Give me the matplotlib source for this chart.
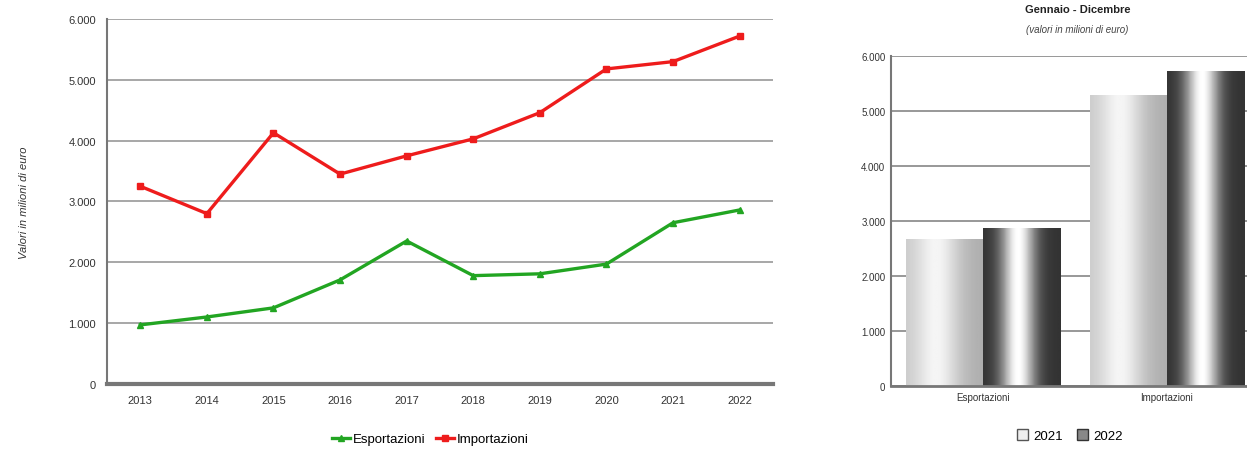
import matplotlib
matplotlib.use('Agg')
import matplotlib.pyplot as plt
import numpy as np
from matplotlib.ticker import FuncFormatter
from matplotlib.patches import Patch

plt.rcParams['font.family'] = ['Liberation Sans', 'DejaVu Sans']

# data (milioni di euro)
anni = ['2013', '2014', '2015', '2016', '2017', '2018', '2019', '2020', '2021', '2022']
esportazioni = [970, 1100, 1250, 1710, 2350, 1780, 1810, 1970, 2650, 2860]
importazioni = [3250, 2800, 4130, 3450, 3750, 4030, 4460, 5180, 5300, 5720]

voci = ['Esportazioni', 'Importazioni']
val_2021 = [2670, 5290]
val_2022 = [2870, 5730]

def fmt_it(v, pos):
    return '{:,.0f}'.format(v).replace(',', '.')

fig = plt.figure(figsize=(12.47, 4.56), dpi=100)

# ---- line chart
ax = fig.add_axes([0.0858, 0.156, 0.534, 0.80])
x = np.arange(len(anni))
l1, = ax.plot(x, esportazioni, color='#22a522', lw=2.4, marker='^', ms=5, label='Esportazioni')
l2, = ax.plot(x, importazioni, color='#ee1c1c', lw=2.4, marker='s', ms=5, label='Importazioni')
ax.set_xlim(-0.5, 9.5)
ax.set_ylim(0, 6000)
ax.set_yticks(range(0, 6001, 1000))
ax.yaxis.set_major_formatter(FuncFormatter(fmt_it))
ax.set_xticks(x)
ax.set_xticklabels(anni)
ax.grid(axis='y', color='#a0a0a0', lw=1.3)
ax.set_axisbelow(True)
for s in ['top', 'right']:
    ax.spines[s].set_visible(False)
ax.spines['left'].set_color('#777777')
ax.spines['left'].set_linewidth(1.5)
ax.spines['bottom'].set_color('#777777')
ax.spines['bottom'].set_linewidth(3)
ax.tick_params(length=0, labelsize=8, colors='#333333', pad=8)
ax.set_ylabel('Valori in milioni di euro', fontsize=8, style='italic', color='#333333', labelpad=28)
fig.legend(handles=[l1, l2], loc='center', bbox_to_anchor=(0.345, 0.035), ncol=2,
           frameon=False, fontsize=9.5, handlelength=1.4, handletextpad=0.2, columnspacing=0.8)

# ---- bar chart
bx = fig.add_axes([0.7145, 0.151, 0.2855, 0.724])
pos = np.arange(len(voci))
w = 0.42
b1 = bx.bar(pos - w / 2, val_2021, w, color='#e0e0e0', edgecolor='#888888', lw=0.6)
b2 = bx.bar(pos + w / 2, val_2022, w, color='#777777', edgecolor='#444444', lw=0.6)

# cylinder-like gradients, clipped to each bar
t = np.linspace(0, 1, 64)
light = 0.78 + 0.22 * np.exp(-((t - 0.4) / 0.28) ** 2) - 0.1 * t
dark = 0.2 + 0.8 * np.exp(-((t - 0.45) / 0.22) ** 2)
for bars, grad in [(b1, light), (b2, dark)]:
    for p in bars:
        x0, y0 = p.get_x(), p.get_y()
        im = bx.imshow(grad[None, :], cmap='gray', vmin=0, vmax=1, aspect='auto',
                       extent=[x0, x0 + p.get_width(), y0, y0 + p.get_height()], zorder=2)
        im.set_clip_path(p)
bx.set_xlim(-0.5, 1.435)
bx.set_ylim(0, 6000)
bx.set_yticks(range(0, 6001, 1000))
bx.yaxis.set_major_formatter(FuncFormatter(fmt_it))
bx.set_xticks(pos)
bx.set_xticklabels(voci)
bx.grid(axis='y', color='#909090', lw=1.3)
bx.set_axisbelow(True)
for s in ['top', 'right']:
    bx.spines[s].set_visible(False)
bx.spines['left'].set_color('#777777')
bx.spines['bottom'].set_color('#777777')
bx.spines['left'].set_linewidth(1.5)
bx.spines['bottom'].set_linewidth(2)
bx.tick_params(length=0, labelsize=7, colors='#333333', pad=4)
fig.text(0.864, 0.978, 'Gennaio - Dicembre', ha='center', va='center', fontsize=8, weight='bold', color='#222222')
fig.text(0.864, 0.935, '(valori in milioni di euro)', ha='center', va='center', fontsize=7, style='italic', color='#444444')
fig.legend(handles=[Patch(facecolor='#eeeeee', edgecolor='#555555', label='2021'),
                    Patch(facecolor='#888888', edgecolor='#333333', label='2022')],
           loc='center', bbox_to_anchor=(0.858, 0.042), ncol=2, frameon=False, fontsize=9.5,
           handlelength=0.9, handleheight=0.9, handletextpad=0.4, columnspacing=1.0)

fig.savefig('out.png', dpi=100)
